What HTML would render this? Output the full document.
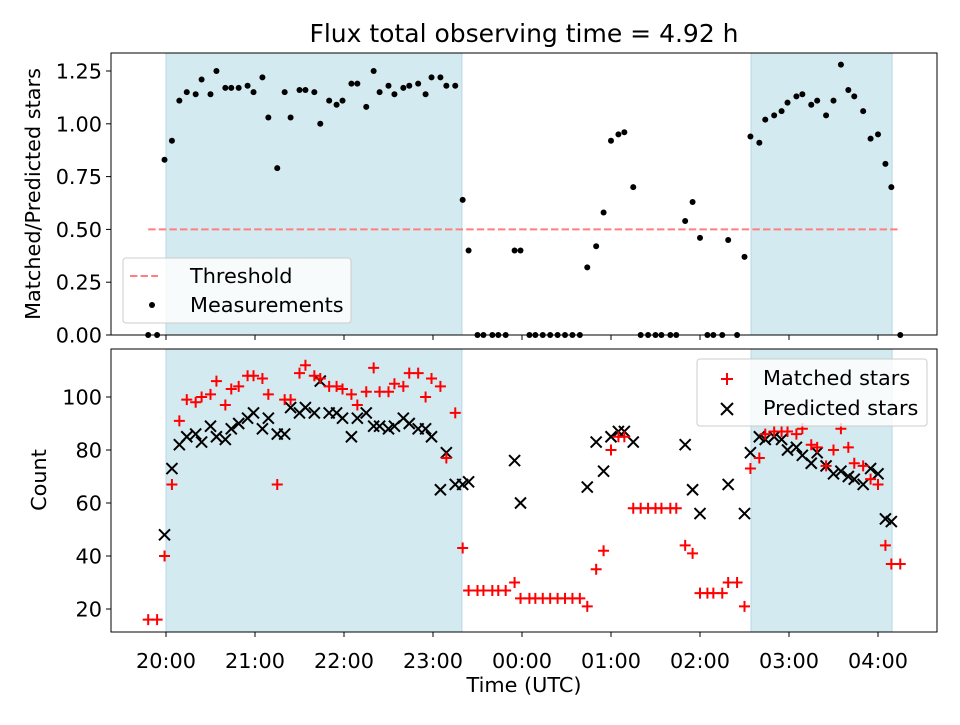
<!DOCTYPE html>
<html><head><meta charset="utf-8"><style>
body{margin:0;background:#fff;}
svg text{font-family:"DejaVu Sans","Liberation Sans",sans-serif;fill:#000;}
</style></head><body>
<svg id="chart" width="960" height="720" xmlns="http://www.w3.org/2000/svg"></svg>
<script>
// minutes relative to 20:00 UTC
const times=[-12,-6,-1,4,9,14,20,24,30,34,40,44,49,55,59,65,69,75,80,84,90,94,100,104,110,115,119,125,129,135,140,144,150,154,160,164,170,175,179,185,189,195,200,204,210,214,220,224,229,235,239,245,249,254,259,264,269,274,279,284,290,295,300,305,309,315,320,325,330,334,340,344,350,355,360,365,369,375,379,385,390,394,400,404,410,415,419,425,429,435,439,445,450,455,460,464,470,475,480,485,489,495];
const ratio=[0,0,0.83,0.92,1.11,1.15,1.14,1.21,1.14,1.25,1.17,1.17,1.17,1.18,1.15,1.22,1.03,0.79,1.15,1.03,1.16,1.16,1.15,1.00,1.11,1.09,1.11,1.19,1.19,1.08,1.25,1.15,1.18,1.14,1.17,1.18,1.19,1.14,1.22,1.22,1.18,1.18,0.64,0.40,0,0,0,0,0,0.40,0.40,0,0,0,0,0,0,0,0,0.32,0.42,0.58,0.92,0.95,0.96,0.70,0,0,0,0,0,0,0.54,0.63,0.46,0,0,0,0.45,0,0.37,0.94,0.91,1.02,1.04,1.06,1.10,1.13,1.14,1.09,1.11,1.04,1.11,1.28,1.16,1.13,1.06,0.93,0.95,0.81,0.70,0];
const matched=[16,16,40,67,91,99,98,100,101,106,97,103,104,108,108,107,101,67,99,99,109,112,108,107,104,104,103,101,97,102,111,102,102,105,104,109,109,100,107,104,77,94,43,27,27,27,27,27,27,30,24,24,24,24,24,24,24,24,24,21,35,42,80,85,85,58,58,58,58,58,58,58,44,41,26,26,26,26,30,30,21,73,77,86,87,87,87,86,88,82,81,74,80,88,81,75,74,69,67,44,37,37];
const predicted=[null,null,48,73,82,85,86,83,89,85,84,88,90,92,94,88,92,86,86,96,94,96,94,106,94,94,92,85,92,94,89,89,88,89,92,90,88,88,85,65,79,67,67,68,null,null,null,null,null,76,60,null,null,null,null,null,null,null,null,66,83,72,85,87,87,83,null,null,null,null,null,null,82,65,56,null,null,null,67,null,56,79,85,84,85,84,80,81,78,75,79,74,71,72,70,69,67,73,71,54,53,null];
const xTickMin=[0,60,120,180,240,300,360,420,480];
const xTickLbl=["20:00","21:00","22:00","23:00","00:00","01:00","02:00","03:00","04:00"];
const topTicks=[0,0.25,0.5,0.75,1.0,1.25];
const topTickLbl=["0.00","0.25","0.50","0.75","1.00","1.25"];
const botTicks=[20,40,60,80,100];
const spans=[[0,199.5],[394.4,489.5]];
const threshold=0.5, thrStart=-12, thrEnd=495;

const NS="http://www.w3.org/2000/svg";
const svg=document.getElementById('chart');
function mk(tag,attrs,parent){const e=document.createElementNS(NS,tag);for(const k in attrs)e.setAttribute(k,attrs[k]);(parent||svg).appendChild(e);return e;}
const L=111,R=937;
const FS=20.8;
const x=m=>166+m*89/60;
const T={t:53,b:335}, B={t:349,b:632};
const yT=v=>335-v*211.2;
const yB=v=>609-(v-20)*2.65;

let t=mk('text',{x:524,y:42,'font-size':25,'text-anchor':'middle'});t.textContent='Flux total observing time = 4.92 h';


function panel(P,name){
  const g=mk('g',{});
  spans.forEach(s=>{const r=mk('rect',{x:x(s[0]),y:P.t,width:x(s[1])-x(s[0]),height:P.b-P.t,fill:'#d4eaf1',stroke:'#b6d9e5','stroke-width':1},g);
    });
  return g;
}
const gt=panel(T,'top-panel');
const gb=panel(B,'bottom-panel');

let th=mk('line',{x1:x(thrStart),x2:x(thrEnd),y1:yT(threshold),y2:yT(threshold),stroke:'#ff7f7f','stroke-width':2,'stroke-dasharray':'7.4,3.2'},gt);

times.forEach((m,i)=>{const c=mk('circle',{cx:x(m),cy:yT(ratio[i]),r:3,fill:'#000'},gt);
  });
times.forEach((m,i)=>{if(predicted[i]==null)return;const cx=x(m),cy=yB(predicted[i]),d=5.5;
  const p=mk('path',{d:`M${cx-d},${cy-d}L${cx+d},${cy+d}M${cx-d},${cy+d}L${cx+d},${cy-d}`,stroke:'#000','stroke-width':2},gb);
  });
times.forEach((m,i)=>{const cx=x(m),cy=yB(matched[i]),d=5.5;
  const p=mk('path',{d:`M${cx-d},${cy}L${cx+d},${cy}M${cx},${cy-d}L${cx},${cy+d}`,stroke:'#f00','stroke-width':2},gb);
  });

[T,B].forEach((P,k)=>{const r=mk('rect',{x:L,y:P.t,width:R-L,height:P.b-P.t,fill:'none',stroke:'#000','stroke-width':1});
  });

xTickMin.forEach((m,i)=>{[T.b,B.b].forEach(yy=>mk('line',{x1:x(m),x2:x(m),y1:yy,y2:yy+5,stroke:'#000'}));
  const tx=mk('text',{x:x(m),y:B.b+36,'font-size':FS,'text-anchor':'middle'});tx.textContent=xTickLbl[i];
  });
topTicks.forEach((v,i)=>{mk('line',{x1:L-5,x2:L,y1:yT(v),y2:yT(v),stroke:'#000'});
  const tx=mk('text',{x:L-9,y:yT(v)+7.5,'font-size':FS,'text-anchor':'end'});tx.textContent=topTickLbl[i];
  });
botTicks.forEach(v=>{mk('line',{x1:L-5,x2:L,y1:yB(v),y2:yB(v),stroke:'#000'});
  const tx=mk('text',{x:L-9,y:yB(v)+7.5,'font-size':FS,'text-anchor':'end'});tx.textContent=v;
  });

t=mk('text',{x:524,y:692,'font-size':FS,'text-anchor':'middle'});t.textContent='Time (UTC)';

t=mk('text',{x:0,y:0,'font-size':FS,'text-anchor':'middle',transform:'translate(40,194) rotate(-90)'});t.textContent='Matched/Predicted stars';

t=mk('text',{x:0,y:0,'font-size':FS,'text-anchor':'middle',transform:'translate(46,480) rotate(-90)'});t.textContent='Count';


let lg=mk('g',{});
mk('rect',{x:123,y:258,width:228,height:65,rx:3,fill:'rgba(255,255,255,0.8)',stroke:'#ccc'},lg);
mk('line',{x1:130,x2:158,y1:276,y2:276,stroke:'#ff7f7f','stroke-width':2,'stroke-dasharray':'7.4,3.2'},lg);
t=mk('text',{x:190,y:283,'font-size':FS},lg);t.textContent='Threshold';

mk('circle',{cx:152,cy:305,r:3,fill:'#000'},lg);
t=mk('text',{x:190,y:312,'font-size':FS},lg);t.textContent='Measurements';


lg=mk('g',{});
mk('rect',{x:697,y:359,width:230,height:67,rx:3,fill:'rgba(255,255,255,0.8)',stroke:'#ccc'},lg);
mk('path',{d:'M721,379L733,379M727,373L727,385',stroke:'#f00','stroke-width':2},lg);
t=mk('text',{x:763,y:385,'font-size':FS},lg);t.textContent='Matched stars';

mk('path',{d:'M721,403L733,415M721,415L733,403',stroke:'#000','stroke-width':2},lg);
t=mk('text',{x:763,y:415,'font-size':FS},lg);t.textContent='Predicted stars';

</script>
</body></html>
